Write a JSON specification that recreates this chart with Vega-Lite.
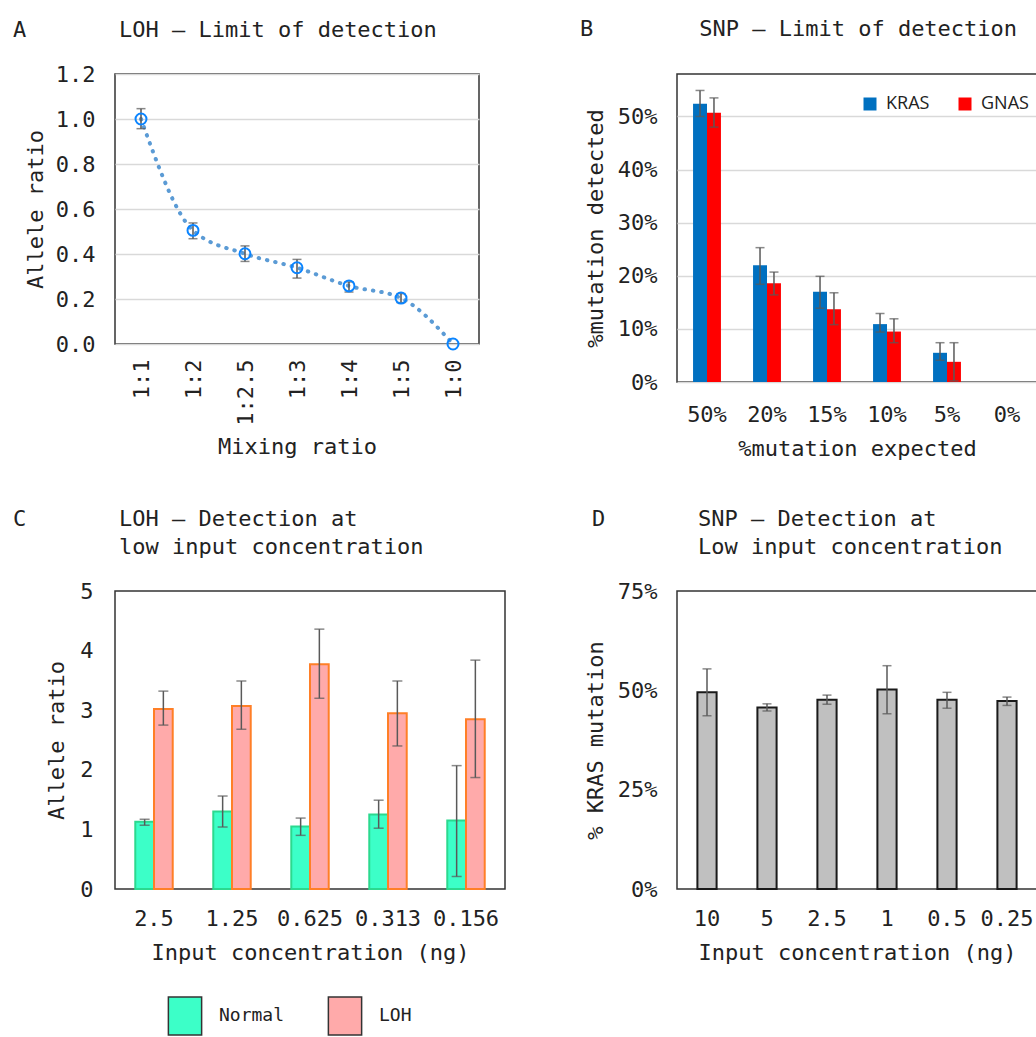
{
  "$schema": "https://vega.github.io/schema/vega-lite/v6.json",
  "background": "white",
  "padding": {"left": 12, "top": 17, "right": 0, "bottom": 0},
  "bounds": "flush",
  "columns": 2,
  "spacing": {"row": 209, "column": 172},
  "resolve": {
    "scale": {"color": "independent", "fill": "independent", "stroke": "independent", "xOffset": "independent", "x": "independent", "y": "independent"},
    "legend": {"color": "independent", "fill": "independent", "stroke": "independent"}
  },
  "config": {
    "font": "DejaVu Sans Mono",
    "view": {"stroke": "#333", "strokeWidth": 1.5},
    "axis": {"labelFontSize": 22, "titleFontSize": 22, "titleFontWeight": "normal", "labelColor": "#222", "titleColor": "#222", "ticks": false, "tickSize": 0, "domain": false, "grid": false, "gridColor": "#d9d9d9", "gridWidth": 1.5, "labelPadding": 20, "titlePadding": 10},
    "title": {"fontSize": 22, "fontWeight": "normal", "color": "#222", "anchor": "start", "frame": "group", "offset": 21, "lineHeight": 28},
    "legend": {"padding": 0}
  },
  "datasets": {
    "loh_lod": [
      {"ratio": "1:1", "value": 1.0, "lo": 0.957, "hi": 1.046},
      {"ratio": "1:2", "value": 0.505, "lo": 0.468, "hi": 0.538},
      {"ratio": "1:2.5", "value": 0.401, "lo": 0.367, "hi": 0.436},
      {"ratio": "1:3", "value": 0.339, "lo": 0.293, "hi": 0.376},
      {"ratio": "1:4", "value": 0.258, "lo": 0.231, "hi": 0.276},
      {"ratio": "1:5", "value": 0.204, "lo": 0.184, "hi": 0.224},
      {"ratio": "1:0", "value": 0.0, "lo": null, "hi": null}
    ],
    "snp_lod": [
      {"expected": "50%", "gene": "KRAS", "value": 0.524, "lo": 0.50, "hi": 0.549},
      {"expected": "50%", "gene": "GNAS", "value": 0.507, "lo": 0.48, "hi": 0.535},
      {"expected": "20%", "gene": "KRAS", "value": 0.220, "lo": 0.184, "hi": 0.253},
      {"expected": "20%", "gene": "GNAS", "value": 0.186, "lo": 0.164, "hi": 0.207},
      {"expected": "15%", "gene": "KRAS", "value": 0.170, "lo": 0.139, "hi": 0.199},
      {"expected": "15%", "gene": "GNAS", "value": 0.137, "lo": 0.108, "hi": 0.168},
      {"expected": "10%", "gene": "KRAS", "value": 0.109, "lo": 0.094, "hi": 0.129},
      {"expected": "10%", "gene": "GNAS", "value": 0.095, "lo": 0.074, "hi": 0.119},
      {"expected": "5%", "gene": "KRAS", "value": 0.055, "lo": 0.041, "hi": 0.074},
      {"expected": "5%", "gene": "GNAS", "value": 0.038, "lo": 0.002, "hi": 0.074},
      {"expected": "0%", "gene": "KRAS", "value": 0, "lo": null, "hi": null},
      {"expected": "0%", "gene": "GNAS", "value": 0, "lo": null, "hi": null}
    ],
    "loh_low": [
      {"conc": "2.5", "type": "Normal", "value": 1.13, "lo": 1.07, "hi": 1.17},
      {"conc": "2.5", "type": "LOH", "value": 3.02, "lo": 2.75, "hi": 3.32},
      {"conc": "1.25", "type": "Normal", "value": 1.30, "lo": 1.04, "hi": 1.56},
      {"conc": "1.25", "type": "LOH", "value": 3.07, "lo": 2.68, "hi": 3.49},
      {"conc": "0.625", "type": "Normal", "value": 1.05, "lo": 0.90, "hi": 1.19},
      {"conc": "0.625", "type": "LOH", "value": 3.77, "lo": 3.20, "hi": 4.36},
      {"conc": "0.313", "type": "Normal", "value": 1.25, "lo": 1.02, "hi": 1.49},
      {"conc": "0.313", "type": "LOH", "value": 2.95, "lo": 2.40, "hi": 3.49},
      {"conc": "0.156", "type": "Normal", "value": 1.15, "lo": 0.21, "hi": 2.07},
      {"conc": "0.156", "type": "LOH", "value": 2.85, "lo": 1.87, "hi": 3.84}
    ],
    "snp_low": [
      {"conc": "10", "value": 0.495, "lo": 0.436, "hi": 0.554},
      {"conc": "5", "value": 0.457, "lo": 0.448, "hi": 0.466},
      {"conc": "2.5", "value": 0.476, "lo": 0.465, "hi": 0.488},
      {"conc": "1", "value": 0.502, "lo": 0.441, "hi": 0.562},
      {"conc": "0.5", "value": 0.476, "lo": 0.455, "hi": 0.495},
      {"conc": "0.25", "value": 0.473, "lo": 0.462, "hi": 0.483}
    ]
  },
  "concat": [
    {
      "width": 364,
      "height": 270,
      "title": {"text": "A\u00a0\u00a0\u00a0\u00a0\u00a0\u00a0\u00a0LOH – Limit of detection", "dx": -102},
      "data": {"name": "loh_lod"},
      "encoding": {
        "x": {"field": "ratio", "type": "ordinal", "sort": null, "scale": {"type": "point", "padding": 0.5}, "axis": {"title": "Mixing ratio", "labelAngle": -90, "labelPadding": 15, "titlePadding": 11}}
      },
      "layer": [
        {
          "mark": {"type": "line", "interpolate": "monotone", "color": "#5b9bd5", "strokeWidth": 4, "strokeDash": [0.5, 8], "strokeCap": "round"},
          "encoding": {
            "y": {"field": "value", "type": "quantitative", "title": "Allele ratio", "scale": {"domain": [0, 1.2], "nice": false}, "axis": {"values": [0, 0.2, 0.4, 0.6, 0.8, 1, 1.2], "format": ".1f", "grid": true, "labelPadding": 20, "titlePadding": 8}},
            "order": {"value": null}
          }
        },
        {
          "mark": {"type": "rule", "color": "#555", "strokeWidth": 1.5},
          "encoding": {"y": {"field": "lo", "type": "quantitative", "title": "Allele ratio"}, "y2": {"field": "hi"}}
        },
        {
          "transform": [{"fold": ["lo", "hi"], "as": ["end", "v"]}],
          "mark": {"type": "tick", "color": "#555", "thickness": 1.5, "size": 9},
          "encoding": {"y": {"field": "v", "type": "quantitative", "title": "Allele ratio"}}
        },
        {
          "mark": {"type": "point", "shape": "circle", "filled": false, "color": "#0a84ff", "strokeWidth": 2, "size": 120, "opacity": 1},
          "encoding": {"y": {"field": "value", "type": "quantitative", "title": "Allele ratio"}}
        }
      ]
    },
    {
      "width": 360,
      "height": 308,
      "title": {"text": "B\u00a0\u00a0\u00a0\u00a0\u00a0\u00a0\u00a0\u00a0SNP – Limit of detection", "dx": -97, "offset": 33},
      "data": {"name": "snp_lod"},
      "encoding": {
        "x": {"field": "expected", "type": "nominal", "sort": null, "scale": {"paddingInner": 0.535, "paddingOuter": 0.2675}, "axis": {"title": "%mutation expected", "labelAngle": 0, "labelPadding": 22, "titlePadding": 13}},
        "xOffset": {"field": "gene", "type": "nominal", "sort": ["KRAS", "GNAS"], "scale": {"domain": ["KRAS", "GNAS"]}}
      },
      "layer": [
        {
          "mark": {"type": "bar"},
          "encoding": {
            "y": {"field": "value", "type": "quantitative", "title": "%mutation detected", "scale": {"domain": [0, 0.58], "nice": false}, "axis": {"values": [0, 0.05, 0.1, 0.15, 0.2, 0.25, 0.3, 0.35, 0.4, 0.45, 0.5, 0.55], "labelExpr": "round(datum.value*100) % 10 == 0 ? format(datum.value, '.0%') : ''", "grid": true, "labelPadding": 20, "titlePadding": 10}},
            "color": {"field": "gene", "type": "nominal", "sort": ["KRAS", "GNAS"], "scale": {"domain": ["KRAS", "GNAS"], "range": ["#0070c0", "#ff0000"]}, "legend": {"title": null, "orient": "none", "legendX": 184, "legendY": 21, "direction": "horizontal", "symbolType": "square", "symbolSize": 169, "symbolStrokeWidth": 0, "labelFont": "Open Sans", "labelFontSize": 18, "labelColor": "#222", "labelOffset": 7, "columnPadding": 26}}
          }
        },
        {
          "mark": {"type": "rule", "color": "#595959", "strokeWidth": 1.5},
          "encoding": {"y": {"field": "lo", "type": "quantitative", "title": "%mutation detected"}, "y2": {"field": "hi"}}
        },
        {
          "transform": [{"fold": ["lo", "hi"], "as": ["end", "v"]}],
          "mark": {"type": "tick", "color": "#595959", "thickness": 1.5, "size": 9},
          "encoding": {"y": {"field": "v", "type": "quantitative", "title": "%mutation detected"}}
        }
      ]
    },
    {
      "width": 390,
      "height": 298,
      "title": {"text": ["C\u00a0\u00a0\u00a0\u00a0\u00a0\u00a0\u00a0LOH – Detection at", "\u200b\u00a0\u00a0\u00a0\u00a0\u00a0\u00a0\u00a0\u00a0low input concentration"], "dx": -102},
      "data": {"name": "loh_low"},
      "encoding": {
        "x": {"field": "conc", "type": "nominal", "sort": null, "scale": {"paddingInner": 0.52, "paddingOuter": 0.26}, "axis": {"title": "Input concentration (ng)", "labelAngle": 0, "labelPadding": 19, "titlePadding": 13}},
        "xOffset": {"field": "type", "type": "nominal", "sort": ["Normal", "LOH"], "scale": {"domain": ["Normal", "LOH"]}}
      },
      "layer": [
        {
          "mark": {"type": "bar", "strokeWidth": 2},
          "encoding": {
            "y": {"field": "value", "type": "quantitative", "title": "Allele ratio", "scale": {"domain": [0, 5], "nice": false}, "axis": {"values": [0, 1, 2, 3, 4, 5], "format": "d", "labelPadding": 22, "titlePadding": 11}},
            "fill": {"field": "type", "type": "nominal", "sort": ["Normal", "LOH"], "scale": {"domain": ["Normal", "LOH"], "range": ["#3cffc8", "#ffaaaa"]}, "legend": {"title": null, "orient": "none", "legendX": 50, "legendY": 405, "direction": "horizontal", "symbolType": "M-0.875,-1H0.875V1H-0.875Z", "symbolSize": 1444, "symbolStrokeColor": "#333", "symbolStrokeWidth": 1.5, "symbolOpacity": 1, "labelFontSize": 18, "labelColor": "#222", "labelOffset": 14, "columnPadding": 40}},
            "stroke": {"condition": {"test": "datum.type === 'Normal'", "value": "#2bd98f"}, "value": "#ff7f27"}
          }
        },
        {
          "mark": {"type": "rule", "color": "#595959", "strokeWidth": 1.5},
          "encoding": {"y": {"field": "lo", "type": "quantitative", "title": "Allele ratio"}, "y2": {"field": "hi"}}
        },
        {
          "transform": [{"fold": ["lo", "hi"], "as": ["end", "v"]}],
          "mark": {"type": "tick", "color": "#595959", "thickness": 1.5, "size": 10},
          "encoding": {"y": {"field": "v", "type": "quantitative", "title": "Allele ratio"}}
        }
      ]
    },
    {
      "width": 360,
      "height": 298,
      "title": {"text": ["D\u00a0\u00a0\u00a0\u00a0\u00a0\u00a0\u00a0SNP – Detection at", "\u200b\u00a0\u00a0\u00a0\u00a0\u00a0\u00a0\u00a0\u00a0Low input concentration"], "dx": -85},
      "data": {"name": "snp_low"},
      "encoding": {
        "x": {"field": "conc", "type": "nominal", "sort": null, "scale": {"paddingInner": 0.68, "paddingOuter": 0.34}, "axis": {"title": "Input concentration (ng)", "labelAngle": 0, "labelPadding": 19, "titlePadding": 13}}
      },
      "layer": [
        {
          "mark": {"type": "bar", "fill": "#c0c0c0", "stroke": "#1a1a1a", "strokeWidth": 2},
          "encoding": {
            "y": {"field": "value", "type": "quantitative", "title": "% KRAS mutation", "scale": {"domain": [0, 0.75], "nice": false}, "axis": {"values": [0, 0.25, 0.5, 0.75], "format": ".0%", "labelPadding": 20, "titlePadding": 10}}
          }
        },
        {
          "mark": {"type": "rule", "color": "#595959", "strokeWidth": 1.5},
          "encoding": {"y": {"field": "lo", "type": "quantitative", "title": "% KRAS mutation"}, "y2": {"field": "hi"}}
        },
        {
          "transform": [{"fold": ["lo", "hi"], "as": ["end", "v"]}],
          "mark": {"type": "tick", "color": "#595959", "thickness": 1.5, "size": 9},
          "encoding": {"y": {"field": "v", "type": "quantitative", "title": "% KRAS mutation"}}
        }
      ]
    }
  ]
}
